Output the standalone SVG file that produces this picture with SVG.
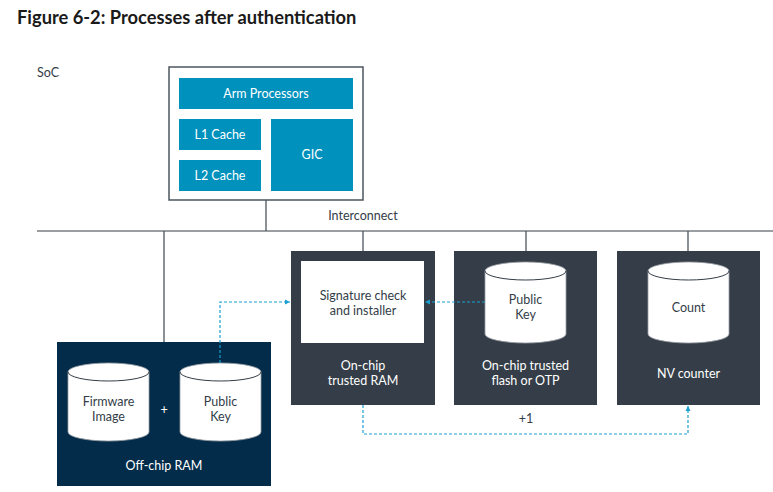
<svg xmlns="http://www.w3.org/2000/svg" width="773" height="492" viewBox="0 0 773 492">
<defs>
<style>
text{font-family:Lato,"Open Sans","Liberation Sans",sans-serif;font-size:12.5px;text-anchor:middle}
.w{fill:#ffffff}
.d{fill:#333d47}
.blue{fill:#0091bd}
.dark{fill:#353e48}
.navy{fill:#022c4a}
.bus{stroke:#9a9ea3;stroke-width:2;fill:none}
.ln{stroke:#4c555e;stroke-width:1.3;fill:none}
.dash{stroke:#1a9fd0;stroke-width:1.2;stroke-dasharray:3 2;fill:none}
.cyl{fill:#ffffff;stroke:#9aa0a6;stroke-width:0.8}
.cyltop{fill:none;stroke:#333d47;stroke-width:1}
</style>
<marker id="ah" markerWidth="6" markerHeight="6" refX="5" refY="3" orient="auto" markerUnits="userSpaceOnUse">
<path d="M0,0.5 L5,3 L0,5.5 Z" fill="#1a9fd0"/>
</marker>
</defs>
<rect width="773" height="492" fill="#ffffff"/>
<text x="17" y="24" style="font-size:18.3px;font-weight:bold;text-anchor:start" fill="#1a1a1a">Figure 6-2: Processes after authentication</text>
<text x="37" y="77" style="text-anchor:start" class="d">SoC</text>

<g id="bus">
<line class="bus" x1="37" y1="231" x2="773" y2="231"/>
<line class="ln" x1="266" y1="200" x2="266" y2="231"/>
<line class="ln" x1="164" y1="231" x2="164" y2="342"/>
<line class="ln" x1="363" y1="231" x2="363" y2="251"/>
<line class="ln" x1="526" y1="231" x2="526" y2="251"/>
<line class="ln" x1="688" y1="231" x2="688" y2="251"/>
<text x="363" y="220" class="d">Interconnect</text>
</g>

<g id="soc">
<rect x="169" y="67" width="194" height="133" fill="#ffffff" stroke="#4c555e" stroke-width="1.5"/>
</g>
<g id="arm-processors">
<rect x="179" y="78" width="174" height="31" class="blue"/>
<text x="266" y="98" class="w">Arm Processors</text>
</g>
<g id="l1-cache">
<rect x="179" y="119" width="82" height="31" class="blue"/>
<text x="220" y="139" class="w">L1 Cache</text>
</g>
<g id="l2-cache">
<rect x="179" y="160" width="82" height="31" class="blue"/>
<text x="220" y="180" class="w">L2 Cache</text>
</g>
<g id="gic">
<rect x="271" y="119" width="82" height="72" class="blue"/>
<text x="312" y="159" class="w">GIC</text>
</g>

<g id="on-chip-ram">
<rect x="291" y="251" width="144" height="154" class="dark"/>
<rect x="301" y="261" width="123" height="82" fill="#ffffff"/>
<text x="363" y="300" class="d">Signature check</text>
<text x="363" y="315" class="d">and installer</text>
<text x="363" y="370" class="w">On-chip</text>
<text x="363" y="385" class="w">trusted RAM</text>
</g>

<g id="on-chip-flash">
<rect x="454" y="251" width="143" height="154" class="dark"/>
<path class="cyl" d="M485,271 A40.5,9 0 0 1 566,271 V334 A40.5,9 0 0 1 485,334 Z"/>
<path class="cyltop" d="M485,271 A40.5,9 0 0 0 566,271"/>
<text x="525.5" y="304" class="d">Public</text>
<text x="525.5" y="319" class="d">Key</text>
<text x="525.5" y="370" class="w">On-chip trusted</text>
<text x="525.5" y="385" class="w">flash or OTP</text>
</g>

<g id="nv-counter">
<rect x="617" y="251" width="143" height="154" class="dark"/>
<path class="cyl" d="M648,271 A40.5,9 0 0 1 729,271 V334 A40.5,9 0 0 1 648,334 Z"/>
<path class="cyltop" d="M648,271 A40.5,9 0 0 0 729,271"/>
<text x="688.5" y="312" class="d">Count</text>
<text x="688.5" y="378" class="w">NV counter</text>
</g>

<g id="off-chip-ram">
<rect x="57" y="342" width="214" height="144" class="navy"/>
<path class="cyl" d="M68,372 A40.5,9 0 0 1 149,372 V432 A40.5,9 0 0 1 68,432 Z"/>
<path class="cyltop" d="M68,372 A40.5,9 0 0 0 149,372"/>
<text x="108.5" y="406" class="d">Firmware</text>
<text x="108.5" y="421" class="d">Image</text>
<text x="164" y="414" class="w">+</text>
<path class="cyl" d="M180,372 A40.5,9 0 0 1 261,372 V432 A40.5,9 0 0 1 180,432 Z"/>
<path class="cyltop" d="M180,372 A40.5,9 0 0 0 261,372"/>
<text x="220.5" y="406" class="d">Public</text>
<text x="220.5" y="421" class="d">Key</text>
<text x="164" y="470" class="w">Off-chip RAM</text>
</g>

<g id="connectors">
<path class="dash" d="M220,363 V302 H290" marker-end="url(#ah)"/>
<path class="dash" d="M485,302 H425" marker-end="url(#ah)"/>
<path class="dash" d="M363,405 V434 H688 V406" marker-end="url(#ah)"/>
<text x="526" y="423" class="d">+1</text>
</g>
</svg>
